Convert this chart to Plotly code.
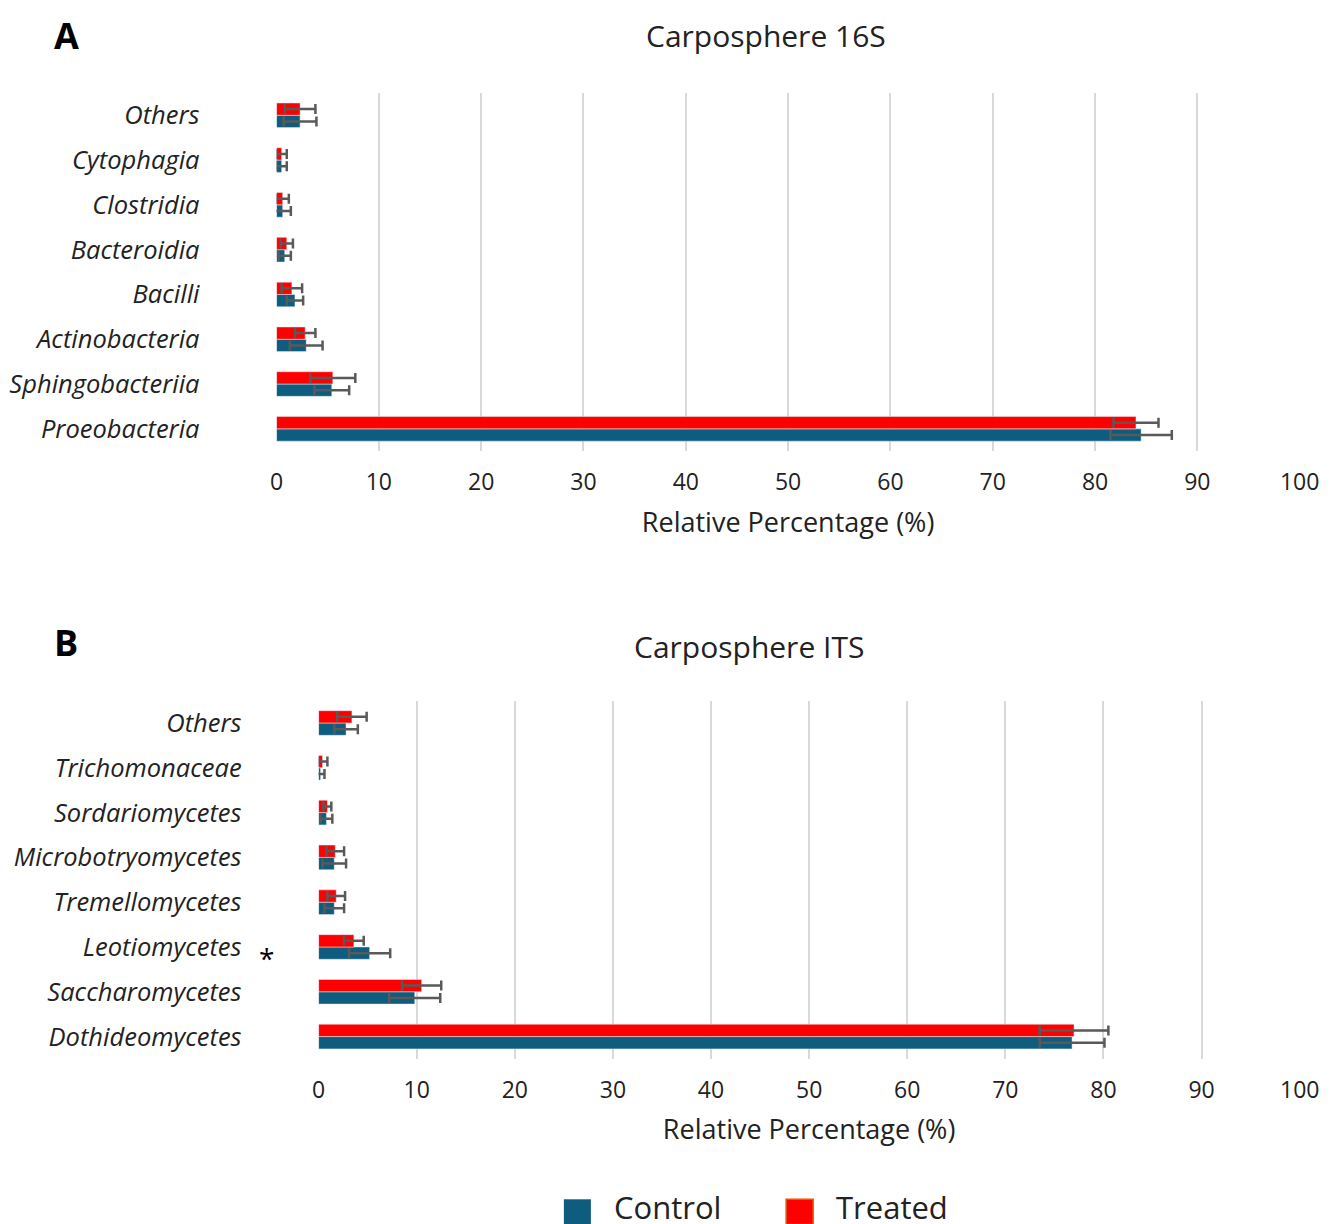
import plotly.graph_objects as go

cats_a = ["Proeobacteria", "Sphingobacteriia", "Actinobacteria", "Bacilli", "Bacteroidia", "Clostridia", "Cytophagia", "Others"]
ctrl_a = [84.5, 5.4, 2.9, 1.8, 0.8, 0.6, 0.5, 2.3]
ctrl_a_err = [3.0, 1.7, 1.6, 0.8, 0.6, 0.8, 0.5, 1.6]
trt_a = [84.0, 5.5, 2.8, 1.5, 1.0, 0.6, 0.5, 2.3]
trt_a_err = [2.2, 2.2, 1.0, 1.0, 0.6, 0.6, 0.5, 1.5]

cats_b = ["Dothideomycetes", "Saccharomycetes", "Leotiomycetes", "Tremellomycetes", "Microbotryomycetes", "Sordariomycetes", "Trichomonaceae", "Others"]
ctrl_b = [76.8, 9.8, 5.2, 1.6, 1.6, 0.8, 0.2, 2.8]
ctrl_b_err = [3.3, 2.6, 2.1, 1.0, 1.2, 0.6, 0.4, 1.2]
trt_b = [77.0, 10.5, 3.6, 1.8, 1.7, 0.9, 0.4, 3.4]
trt_b_err = [3.5, 2.0, 1.0, 0.9, 0.9, 0.4, 0.5, 1.5]

CTRL = "#0e5d7e"
TRT = "#ff0000"
ERR = dict(type="data", color="#595959", thickness=2.5, width=5)

W, H = 1335, 1224
def px(x):
    x = (x - 3) / 0.9826
    return ((x - 14) / 0.996) / W
def py(y):
    y = y / 0.9906
    return 1 - (y - 9) / H

fig = go.Figure()
def add(cats, vals, errs, name, color, xa, ya):
    fig.add_trace(go.Bar(y=[f"<i>{c}</i>" for c in cats], x=vals, orientation="h", name=name,
                         marker_color=color, error_x=dict(array=errs, **ERR),
                         xaxis=xa, yaxis=ya, showlegend=False, offsetgroup=name))

add(cats_a, ctrl_a, ctrl_a_err, "Control", CTRL, "x", "y")
add(cats_a, trt_a, trt_a_err, "Treated", TRT, "x", "y")
add(cats_b, ctrl_b, ctrl_b_err, "Control", CTRL, "x2", "y2")
add(cats_b, trt_b, trt_b_err, "Treated", TRT, "x2", "y2")

xcommon = dict(range=[0, 100], dtick=10, showgrid=True, gridcolor="#d9d9d9", gridwidth=2,
               zeroline=False, tickfont=dict(size=23, color="#222"), ticklabelstandoff=15,
               title=dict(text="Relative Percentage (%)", font=dict(size=27, color="#222"), standoff=16))
ycommon = dict(tickfont=dict(size=25.5, color="#222"), ticklabelstandoff=76)

ann = dict(xref="paper", yref="paper", xanchor="center", yanchor="middle", showarrow=False)
fig.update_layout(
    width=W, height=H, paper_bgcolor="white", plot_bgcolor="white",
    margin=dict(l=0, r=0, t=0, b=0), barmode="group", bargap=0.45, bargroupgap=0,
    font=dict(family="Open Sans, Liberation Sans, sans-serif"),
    xaxis=dict(domain=[px(278), px(1300)], anchor="y", **xcommon),
    yaxis=dict(domain=[py(448), py(93)], anchor="x", **ycommon),
    xaxis2=dict(domain=[px(320), px(1300)], anchor="y2", **xcommon),
    yaxis2=dict(domain=[py(1050), py(695)], anchor="x2", **ycommon),
    shapes=[
        dict(type="rect", xref="paper", yref="paper", x0=px(565), x1=px(592), y0=py(1214), y1=py(1189), fillcolor=CTRL, line=dict(width=0)),
        dict(type="rect", xref="paper", yref="paper", x0=px(787), x1=px(814), y0=py(1214), y1=py(1189), fillcolor=TRT, line=dict(color="#e05a00", width=1.5)),
    ],
    annotations=[
        dict(text="<b>A</b>", x=px(68), y=py(36), font=dict(size=36, color="black"), **ann),
        dict(text="<b>B</b>", x=px(68), y=py(637), font=dict(size=36, color="black"), **ann),
        dict(text="Carposphere 16S", x=px(767), y=py(36), font=dict(size=30, color="#222"), **ann),
        dict(text="Carposphere ITS", x=px(750), y=py(641), font=dict(size=30, color="#222"), **ann),
        dict(text="*", x=px(268), y=py(950), font=dict(size=28, color="black"), **ann),
        dict(text="Control", x=px(613), y=py(1197), font=dict(size=31, color="#222"), xref="paper", yref="paper", xanchor="left", yanchor="middle", showarrow=False),
        dict(text="Treated", x=px(835), y=py(1197), font=dict(size=31, color="#222"), xref="paper", yref="paper", xanchor="left", yanchor="middle", showarrow=False),
    ],
)
fig.write_html("out.html")
